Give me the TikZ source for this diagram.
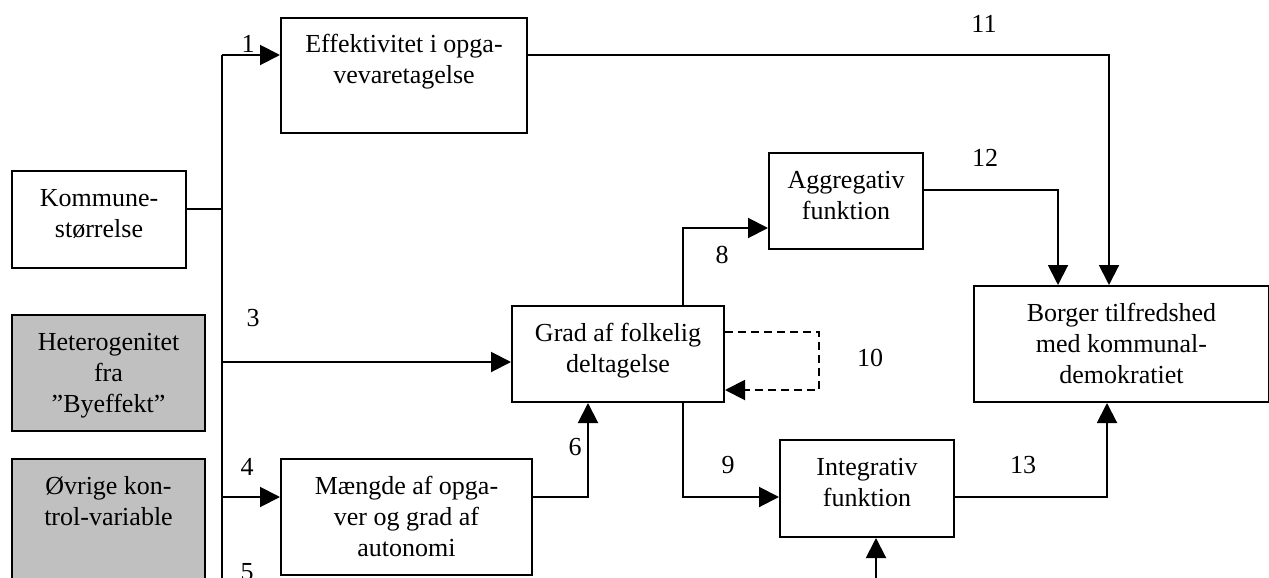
\documentclass[tikz,border=0pt]{standalone}
\usepackage{fontspec}
\setmainfont{Liberation Serif}
\usetikzlibrary{arrows.meta}
\definecolor{boksgraa}{RGB}{192,192,192}
\newcommand{\bokstekst}[3]{\parbox[c][#2][t]{#1}{\centering\rule{0pt}{17.5pt}#3}}
\tikzset{>={Triangle[length=10pt,width=10pt]}}
\tikzset{
    boks/.style={draw, line width=1pt, inner sep=0pt, anchor=north west,
        font=\fontsize{13}{15.5}\selectfont},
    graaboks/.style={boks, fill=boksgraa},
    tal/.style={inner sep=0pt, font=\fontsize{13}{15.5}\selectfont},
    forb/.style={line width=1pt},
    stiplet/.style={dash pattern=on 4pt off 2.5pt},
}

\begin{document}
\begin{tikzpicture}[x=0.5pt,y=-0.5pt]
                    \clip (0,0) rectangle (1269,578);
                    % kasser
                    \node[boks] (komm) at (11,170) {\bokstekst{87pt}{48.5pt}{Kommune-\\størrelse}};
                    \node[graaboks] (het) at (11,314) {\bokstekst{96.5pt}{58pt}{Heterogenitet\\fra\\”Byeffekt”}};
                    \node[graaboks] (ovr) at (11,458) {\bokstekst{96.5pt}{75pt}{Øvrige kon-\\trol-variable}};
                    \node[boks] (eff) at (280,17) {\bokstekst{123pt}{57.5pt}{Effektivitet i opga-\\vevaretagelse}};
                    \node[boks] (mng) at (280,458) {\bokstekst{125.5pt}{58pt}{Mængde af opga-\\ver og grad af\\autonomi}};
                    \node[boks] (grad) at (511,305) {\bokstekst{106pt}{48pt}{Grad af folkelig\\deltagelse}};
                    \node[boks] (agg) at (768,152) {\bokstekst{77pt}{48pt}{Aggregativ\\funktion}};
                    \node[boks] (integ) at (779,439) {\bokstekst{87pt}{48.5pt}{Integrativ\\funktion}};
                    \node[boks] (borg) at (973,285) {\bokstekst{147.5pt}{58pt}{Borger tilfredshed\\med kommunal-\\demokratiet}};

                    % knaekpunkter
                    \coordinate (t1) at (222,55);
                    \coordinate (k0) at (222,209);
                    \coordinate (t3) at (222,362);
                    \coordinate (t4) at (222,497);
                    \coordinate (tbund) at (222,600);
                    \coordinate (k6) at (588,497);
                    \coordinate (k7) at (876,600);
                    \coordinate (k8) at (683,228);
                    \coordinate (k9) at (683,497);
                    \coordinate (k10a) at (819,332);
                    \coordinate (k10b) at (819,390);
                    \coordinate (k11) at (1109,55);
                    \coordinate (k12) at (1058,190);
                    \coordinate (k13) at (1107,497);

                    \draw[forb] (t1) -- (tbund);
                    \draw[forb] (k0 -| komm.east) -- (k0);
                    \draw[forb,->] (t1) -- (t1 -| eff.west);
                    \draw[forb,->] (t3) -- (t3 -| grad.west);
                    \draw[forb,->] (t4) -- (t4 -| mng.west);
                    \draw[forb,->] (k6 -| mng.east) -- (k6) -- (k6 |- grad.south);
                    \draw[forb,->] (k7) -- (k7 |- integ.south);
                    \draw[forb,->] (k8 |- grad.north) -- (k8) -- (k8 -| agg.west);
                    \draw[forb,->] (k9 |- grad.south) -- (k9) -- (k9 -| integ.west);
                    \draw[forb,stiplet,->] (k10a -| grad.east) -- (k10a) -- (k10b) -- (k10b -| grad.east);
                    \draw[forb,->] (k11 -| eff.east) -- (k11) -- (k11 |- borg.north);
                    \draw[forb,->] (k12 -| agg.east) -- (k12) -- (k12 |- borg.north);
                    \draw[forb,->] (k13 -| integ.east) -- (k13) -- (k13 |- borg.south);

                    % numre
                    \node[tal] (n1) at (248,44) {1};
                    \node[tal] (n3) at (253,318) {3};
                    \node[tal] (n4) at (247,467) {4};
                    \node[tal] (n5) at (247,572) {5};
                    \node[tal] (n6) at (575,447) {6};
                    \node[tal] (n8) at (722,255) {8};
                    \node[tal] (n9) at (728,465) {9};
                    \node[tal] (n10) at (870,358) {10};
                    \node[tal] (n11) at (984,24) {11};
                    \node[tal] (n12) at (985,158) {12};
                    \node[tal] (n13) at (1023,465) {13};
\end{tikzpicture}
\end{document}
